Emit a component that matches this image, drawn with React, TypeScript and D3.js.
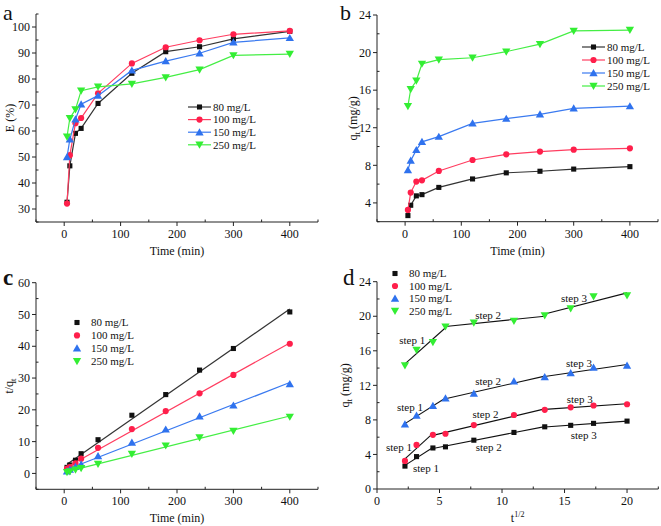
import React from 'react';
import * as d3 from 'd3';

// ---------- data ----------
const times = [5, 10, 20, 30, 60, 120, 180, 240, 300, 400];
const seriesNames = ['80 mg/L', '100 mg/L', '150 mg/L', '250 mg/L'];

// panel a: removal efficiency E (%)
const eff80 = [32.6, 46.6, 59.1, 61.0, 70.6, 82.2, 90.5, 92.4, 95.4, 98.3];
const eff100 = [32.1, 50.7, 63.0, 65.0, 74.5, 86.0, 92.2, 94.9, 97.2, 98.5];
const eff150 = [50.0, 56.8, 64.5, 70.3, 73.6, 83.3, 86.9, 89.9, 94.1, 95.8];
const eff250 = [57.8, 64.9, 68.3, 75.5, 77.0, 78.1, 80.6, 83.6, 89.1, 89.6];

// panel b / d: qt (mg/g)
const qt80 = [2.65, 3.75, 4.75, 4.88, 5.65, 6.55, 7.2, 7.37, 7.6, 7.86];
const qt100 = [3.25, 5.1, 6.27, 6.4, 7.4, 8.57, 9.17, 9.46, 9.67, 9.81];
const qt150 = [7.5, 8.5, 9.64, 10.5, 11.05, 12.47, 12.97, 13.43, 14.07, 14.3];
const qt250 = [14.3, 16.1, 17.0, 18.8, 19.25, 19.45, 20.1, 20.9, 22.3, 22.4];

// panel c: t/qt
const tq80 = [1.9, 2.65, 4.15, 6.2, 10.6, 18.3, 24.8, 32.5, 39.3, 50.8];
const tq100 = [1.55, 1.95, 3.2, 4.65, 8.05, 13.95, 19.6, 25.2, 31.0, 40.8];
const tq150 = [0.67, 1.18, 2.07, 2.86, 5.5, 9.7, 13.85, 17.95, 21.4, 28.1];
const tq250 = [0.35, 0.62, 1.18, 1.6, 2.95, 6.1, 8.75, 11.3, 13.35, 17.8];

// panel d: step index ranges (start index, end index) per series
const steps80 = [[0, 2], [2, 6], [6, 9]];
const steps100 = [[0, 2], [2, 6], [6, 9]];
const steps150 = [[0, 3], [3, 6], [6, 9]];
const steps250 = [[0, 3], [3, 6], [6, 9]];

// panel d step annotations: [x (t^1/2), y (qt), text]
const stepLabels: [number, number, string][] = [
  [1.78, 17.25, 'step 1'], [7.85, 20.15, 'step 2'], [14.72, 22.07, 'step 3'],
  [1.6, 9.53, 'step 1'], [7.85, 12.53, 'step 2'], [15.12, 14.55, 'step 3'],
  [0.72, 4.9, 'step 1'], [7.64, 8.68, 'step 2'], [15.18, 10.42, 'step 3'],
  [2.88, 2.4, 'step 1'], [7.9, 4.83, 'step 2'], [15.5, 6.25, 'step 3'],
];

const timeTicks = [0, 100, 200, 300, 400];
const timeMinor = [-50, 50, 150, 250, 350, 450];
const aTicks = [30, 40, 50, 60, 70, 80, 90, 100];
const aMinor = [25, 35, 45, 55, 65, 75, 85, 95, 105];
const bTicks = [4, 8, 12, 16, 20, 24];
const bMinor = [2, 6, 10, 14, 18, 22];
const cTicks = [0, 10, 20, 30, 40, 50, 60];
const cMinor = [-5, 5, 15, 25, 35, 45, 55];
const dXTicks = [0, 5, 10, 15, 20];
const dXMinor = [2.5, 7.5, 12.5, 17.5, 22.5];
const dYTicks = [0, 4, 8, 12, 16, 20, 24];
const dYMinor = [2, 6, 10, 14, 18, 22];

// ---------- style ----------
const markerColors = ['#111111', '#ff1f4b', '#2f72ee', '#33ee33'];
const lineColors = ['#333333', '#ff3d60', '#3a7af0', '#44ee44'];
const FONT = '"Liberation Serif", "Times New Roman", serif';

const symbolTypes = [d3.symbolSquare, d3.symbolCircle, d3.symbolTriangle, d3.symbolTriangle];
const symbolSizes = [26, 30, 30, 30];

function Marker({ i, x, y }: { i: number; x: number; y: number }) {
  const path = d3.symbol().type(symbolTypes[i]).size(symbolSizes[i])() as string;
  const rot = i === 3 ? 180 : 0;
  const dy = i === 2 ? 0.8 : i === 3 ? -0.8 : 0;
  return (
    <path d={path} fill={markerColors[i]} transform={`translate(${x},${y + dy}) rotate(${rot})`} />
  );
}

function fit(xs: number[], ys: number[]) {
  const mx = d3.mean(xs) as number;
  const my = d3.mean(ys) as number;
  let sxy = 0, sxx = 0;
  xs.forEach((x, k) => { sxy += (x - mx) * (ys[k] - my); sxx += (x - mx) * (x - mx); });
  const b = sxy / sxx;
  return { b, a: my - b * mx };
}

type Sc = d3.ScaleLinear<number, number>;

function Axes({ x, y, xTicks, xMinor, yTicks, yMinor, xTitle, yTitle, yTitleX }: {
  x: Sc; y: Sc; xTicks: number[]; xMinor: number[]; yTicks: number[]; yMinor: number[];
  xTitle: React.ReactNode; yTitle: React.ReactNode; yTitleX: number;
}) {
  const [x0, x1] = x.range();
  const [y0, y1] = y.range();
  const col = '#222';
  return (
    <g fontFamily={FONT} fill="#111">
      <line x1={x0} x2={x1} y1={y0} y2={y0} stroke={col} strokeWidth={1} />
      <line x1={x0} x2={x0} y1={y0} y2={y1} stroke={col} strokeWidth={1} />
      {xTicks.map((t) => (
        <g key={'xt' + t}>
          <line x1={x(t)} x2={x(t)} y1={y0} y2={y0 + 4} stroke={col} />
          <text x={x(t)} y={y0 + 16} textAnchor="middle" fontSize={12}>{t}</text>
        </g>
      ))}
      {xMinor.map((t) => (
        <line key={'xm' + t} x1={x(t)} x2={x(t)} y1={y0} y2={y0 - 2.5} stroke={col} />
      ))}
      {yTicks.map((t) => (
        <g key={'yt' + t}>
          <line x1={x0 - 4} x2={x0} y1={y(t)} y2={y(t)} stroke={col} />
          <text x={x0 - 6} y={y(t)} dy="0.35em" textAnchor="end" fontSize={12}>{t}</text>
        </g>
      ))}
      {yMinor.map((t) => (
        <line key={'ym' + t} x1={x0} x2={x0 + 2.5} y1={y(t)} y2={y(t)} stroke={col} />
      ))}
      <text x={(x0 + x1) / 2 + 0} y={y0 + 33} textAnchor="middle" fontSize={12}>{xTitle}</text>
      <text transform={`translate(${yTitleX},${(y0 + y1) / 2}) rotate(-90)`} textAnchor="middle" dy="0.35em" fontSize={12}>
        {yTitle}
      </text>
    </g>
  );
}

function LineLegend({ x, y, step }: { x: number; y: number; step: number }) {
  return (
    <g fontFamily={FONT} fontSize={11}>
      {seriesNames.map((n, i) => (
        <g key={n}>
          <line x1={x} x2={x + 23} y1={y + i * step} y2={y + i * step} stroke={lineColors[i]} strokeWidth={1.2} />
          <Marker i={i} x={x + 11.5} y={y + i * step} />
          <text x={x + 25} y={y + i * step} dy="0.35em" fill="#111">{n}</text>
        </g>
      ))}
    </g>
  );
}

function SymLegend({ x, y, step }: { x: number; y: number; step: number }) {
  return (
    <g fontFamily={FONT} fontSize={11}>
      {seriesNames.map((n, i) => (
        <g key={n}>
          <Marker i={i} x={x} y={y + i * step} />
          <text x={x + 14} y={y + i * step} dy="0.35em" fill="#111">{n}</text>
        </g>
      ))}
    </g>
  );
}

export default function App() {
  const effSeries = [eff80, eff100, eff150, eff250];
  const qtSeries = [qt80, qt100, qt150, qt250];
  const tqSeries = [tq80, tq100, tq150, tq250];
  const stepSeries = [steps80, steps100, steps150, steps250];
  const sqrtT = times.map((t) => Math.sqrt(t));

  // panel a
  const ax = d3.scaleLinear().domain([-50, 450]).range([36, 318]);
  const ay = d3.scaleLinear().domain([25, 105]).range([222, 14]);
  // panel b
  const bx = d3.scaleLinear().domain([-50, 450]).range([377, 658]);
  const by = d3.scaleLinear().domain([2, 24]).range([221.7, 15]);
  // panel c
  const cx = d3.scaleLinear().domain([-50, 450]).range([36, 318]);
  const cy = d3.scaleLinear().domain([-5, 60]).range([489.3, 282.7]);
  // panel d
  const dx = d3.scaleLinear().domain([0, 22.5]).range([377, 658.3]);
  const dy = d3.scaleLinear().domain([0, 24]).range([489, 281.7]);

  const lineA = (vals: number[]) =>
    d3.line<number>().x((_, k) => ax(times[k])).y((v) => ay(v))(vals) as string;
  const lineB = (vals: number[]) =>
    d3.line<number>().x((_, k) => bx(times[k])).y((v) => by(v))(vals) as string;

  const qtUnit = (
    <>
      q<tspan fontSize={9} dy={3}>t</tspan><tspan dy={-3}> (mg/g)</tspan>
    </>
  );

  return (
    <svg width={661} height={526} style={{ position: 'absolute', left: 0, top: 0, background: '#fff' }}>
      <rect width={661} height={526} fill="#fff" />
      {/* panel labels */}
      <g fontFamily={FONT} fill="#111">
        <text x={3} y={19.5} fontSize={22}>a</text>
        <text x={340} y={20} fontSize={22}>b</text>
        <text x={3} y={284.5} fontSize={23} fontWeight="bold">c</text>
        <text x={343} y={285} fontSize={23}>d</text>
      </g>

      {/* ===== panel a ===== */}
      <Axes x={ax} y={ay} xTicks={timeTicks} xMinor={timeMinor} yTicks={aTicks} yMinor={aMinor}
        xTitle="Time (min)" yTitle="E (%)" yTitleX={10} />
      {effSeries.map((s, i) => (
        <g key={'a' + i}>
          <path d={lineA(s)} fill="none" stroke={lineColors[i]} strokeWidth={1.2} />
          {s.map((v, k) => <Marker key={k} i={i} x={ax(times[k])} y={ay(v)} />)}
        </g>
      ))}
      <LineLegend x={188} y={107} step={12.6} />

      {/* ===== panel b ===== */}
      <Axes x={bx} y={by} xTicks={timeTicks} xMinor={timeMinor} yTicks={bTicks} yMinor={bMinor}
        xTitle="Time (min)" yTitle={qtUnit} yTitleX={353} />
      {qtSeries.map((s, i) => (
        <g key={'b' + i}>
          <path d={lineB(s)} fill="none" stroke={lineColors[i]} strokeWidth={1.2} />
          {s.map((v, k) => <Marker key={k} i={i} x={bx(times[k])} y={by(v)} />)}
        </g>
      ))}
      <LineLegend x={582} y={47} step={13} />

      {/* ===== panel c ===== */}
      <Axes x={cx} y={cy} xTicks={timeTicks} xMinor={timeMinor} yTicks={cTicks} yMinor={cMinor}
        xTitle="Time (min)"
        yTitle={<>t/q<tspan fontSize={9} dy={3}>t</tspan></>} yTitleX={9} />
      {tqSeries.map((s, i) => {
        const f = fit(times, s);
        const t0 = times[0];
        const t1 = times[times.length - 1];
        return (
          <g key={'c' + i}>
            <line x1={cx(t0)} y1={cy(f.a + f.b * t0)} x2={cx(t1)} y2={cy(f.a + f.b * t1)}
              stroke={lineColors[i]} strokeWidth={1.2} />
            {s.map((v, k) => <Marker key={k} i={i} x={cx(times[k])} y={cy(v)} />)}
          </g>
        );
      })}
      <SymLegend x={77} y={322.5} step={12.9} />

      {/* ===== panel d ===== */}
      <Axes x={dx} y={dy} xTicks={dXTicks} xMinor={dXMinor} yTicks={dYTicks} yMinor={dYMinor}
        xTitle={<>t<tspan fontSize={8} dy={-5}>1/2</tspan></>} yTitle={qtUnit} yTitleX={345} />
      {qtSeries.map((s, i) => (
        <g key={'d' + i}>
          {stepSeries[i].map(([s0, s1], j) => {
            const xs = sqrtT.slice(s0, s1 + 1);
            const ys = s.slice(s0, s1 + 1);
            const f = fit(xs, ys);
            const xa = xs[0];
            const xb = xs[xs.length - 1];
            return (
              <line key={j} x1={dx(xa)} y1={dy(f.a + f.b * xa)} x2={dx(xb)} y2={dy(f.a + f.b * xb)}
                stroke="#111" strokeWidth={1.1} />
            );
          })}
          {s.map((v, k) => <Marker key={k} i={i} x={dx(sqrtT[k])} y={dy(v)} />)}
        </g>
      ))}
      <g fontFamily={FONT} fontSize={11} fill="#111">
        {stepLabels.map(([sx, sy, txt], k) => (
          <text key={k} x={dx(sx)} y={dy(sy)} dy="0.35em">{txt}</text>
        ))}
      </g>
      <SymLegend x={395} y={273.5} step={12.5} />
    </svg>
  );
}
